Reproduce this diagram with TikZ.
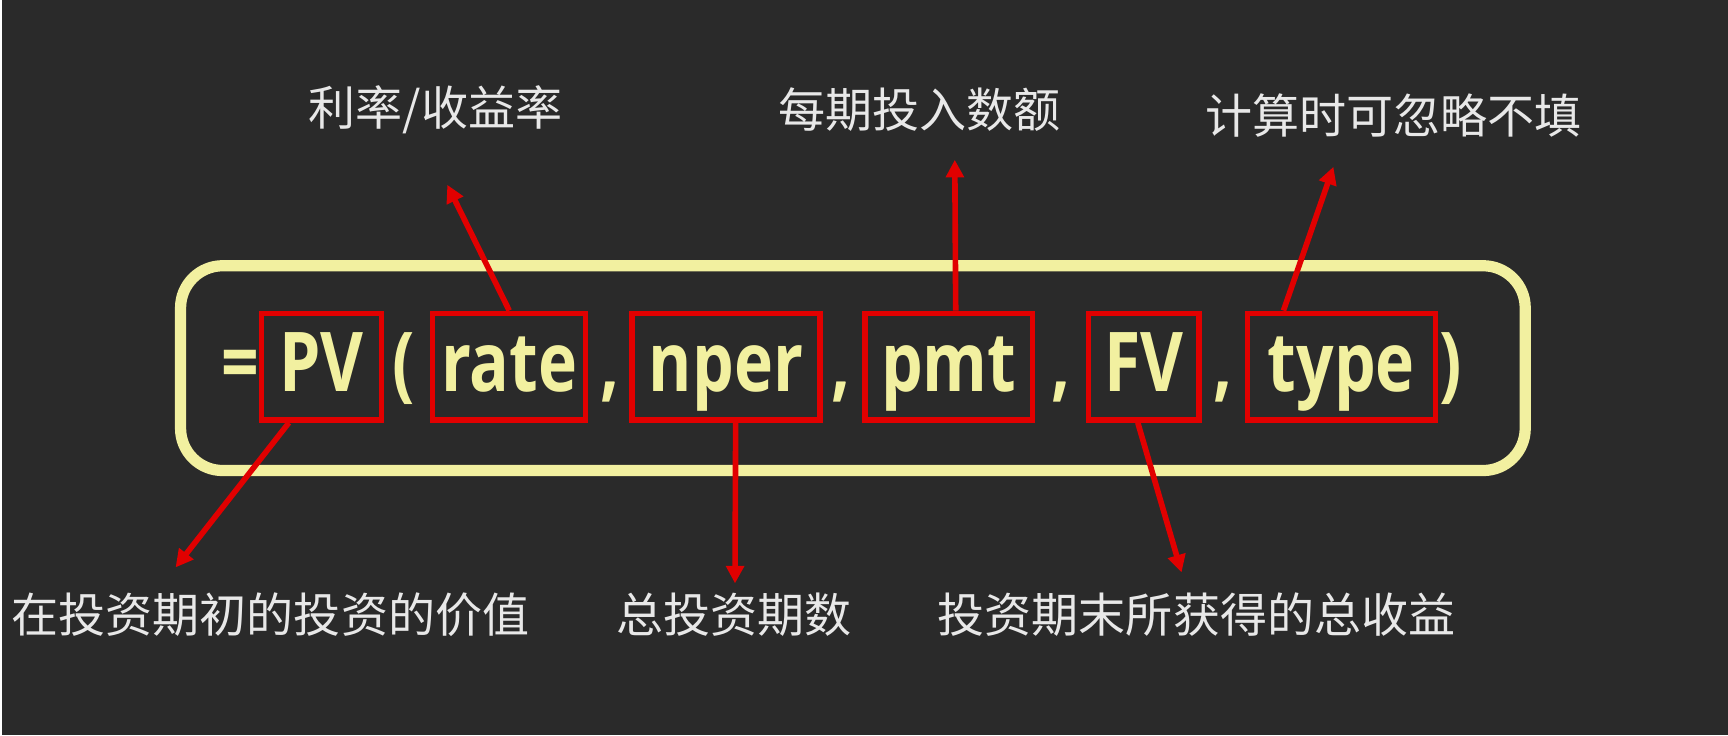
\documentclass[tikz,border=0pt]{standalone}
\usepackage{fontspec}
\setmainfont{Noto Sans CJK SC}
\newfontfamily\fmlfont[FakeStretch=0.8]{Open Sans}
\usepackage{tikz}
\usetikzlibrary{arrows.meta,calc}
\definecolor{board}{RGB}{42,42,42}
\definecolor{chalkyellow}{RGB}{242,240,160}
\definecolor{markred}{RGB}{225,0,0}
\definecolor{chalkwhite}{RGB}{232,232,232}

\begin{document}
\begin{tikzpicture}[x=0.1mm,y=-0.1mm,
    word/.style={draw=markred,line width=1.5pt,inner sep=0pt,
      minimum height=10.7mm,text height=19pt,text depth=4.8pt,
      text=chalkyellow,font=\fmlfont\bfseries\fontsize{23.5}{26}\selectfont},
    sep/.style={anchor=base,inner sep=0pt,text=chalkyellow,
      font=\fmlfont\bfseries\fontsize{23.5}{26}\selectfont},
    lbl/.style={text=chalkwhite,font=\fontsize{13.4}{16}\selectfont},
    arr/.style={draw=markred,line width=1.6pt,
      -{Triangle[length=5pt,width=5pt]}}]
  %% board
  \fill[board] (0,0) rectangle (1728,736);
  \draw[chalkyellow,line width=3.2pt,rounded corners=12pt]
    (179,266) rectangle (1525,471);
  %% formula
  \node[sep] (eq) at (239,392) {=};
  \node[word,minimum width=12mm] (pv) at (320,367) {PV};
  \node[sep] (lp) at (402,392) {(};
  \node[word,minimum width=15.3mm] (rate) at (508,367) {rate};
  \node[sep] (c1) at (609,392) {,};
  \node[word,minimum width=18.8mm] (nper) at (725,367) {nper};
  \node[sep] (c2) at (840,392) {,};
  \node[word,minimum width=16.8mm] (pmt) at (948,367) {pmt};
  \node[sep] (c3) at (1060,392) {,};
  \node[word,minimum width=11.1mm] (fv) at (1143,367) {FV};
  \node[sep] (c4) at (1223,392) {,};
  \node[word,minimum width=18.8mm] (type) at (1341,367) {type};
  \node[sep] (rp) at (1450,392) {)};
  %% labels
  \node[lbl] (lbrate) at (434,110) {利率/收益率};
  \node[lbl] (lbpmt) at (919,110) {每期投入数额};
  \node[lbl] (lbtype) at (1393,116) {计算时可忽略不填};
  \node[lbl] (lbpv) at (269,615) {在投资期初的投资的价值};
  \node[lbl] (lbnper) at (733,615) {总投资期数};
  \node[lbl] (lbfv) at (1196,615) {投资期末所获得的总收益};
  %% arrow tips
  \coordinate (tiprate) at (446,185);
  \coordinate (tippmt) at (954,160);
  \coordinate (tiptype) at (1333,167);
  \coordinate (tippv) at (174,568);
  \coordinate (tipnper) at (734,584);
  \coordinate (tipfv) at (1181,573);
  %% arrows
  \draw[arr] (rate.north) -- (tiprate);
  \draw[arr] ($(pmt.north west)!0.54!(pmt.north east)$) -- (tippmt);
  \draw[arr] ($(type.north west)!0.2!(type.north east)$) -- (tiptype);
  \draw[arr] ($(pv.south west)!0.24!(pv.south east)$) -- (tippv);
  \draw[arr] ($(nper.south west)!0.55!(nper.south east)$) -- (tipnper);
  \draw[arr] ($(fv.south west)!0.45!(fv.south east)$) -- (tipfv);
\end{tikzpicture}
\end{document}
